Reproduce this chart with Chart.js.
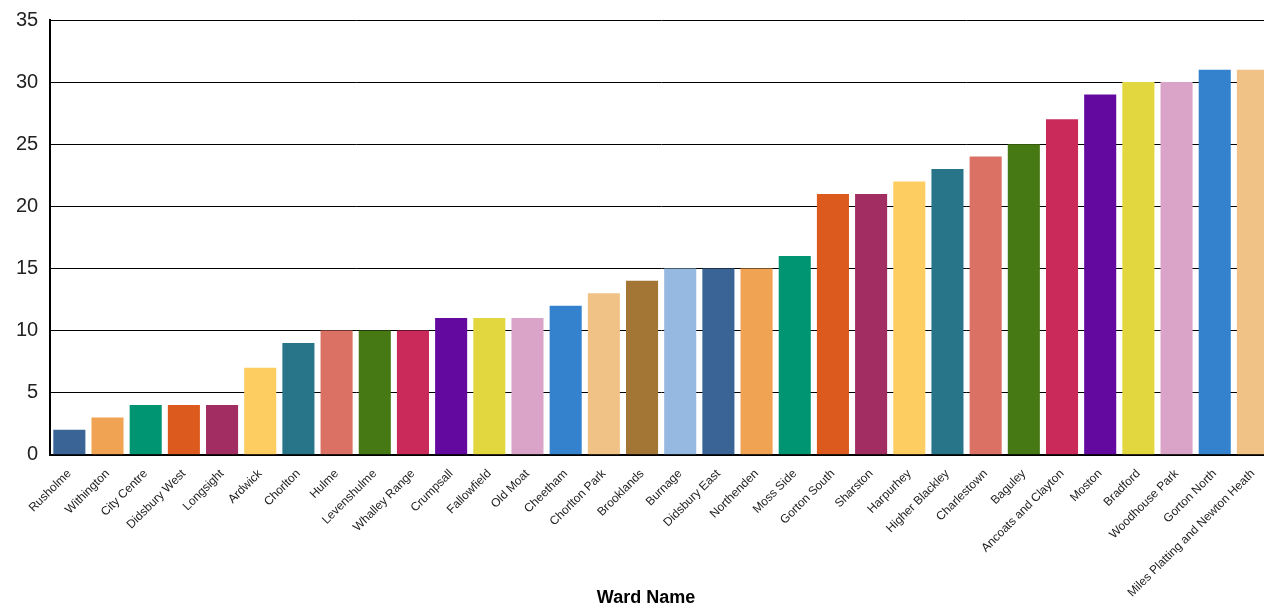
<!DOCTYPE html>
<html>
<head>
<meta charset="utf-8">
<script src="https://cdn.jsdelivr.net/npm/chart.js@4/dist/chart.umd.min.js"></script>
<style>
  html, body { margin: 0; padding: 0; background: #fff; overflow: hidden; }
  #wrap { position: relative; width: 1272px; height: 608px; margin-top: -4px; }
  #xtitle { position: absolute; left: 0; width: 1292px; top: 591px; text-align: center;
    font: bold 18px "Liberation Sans", Arial, sans-serif; color: #000; }
</style>
</head>
<body>
<div id="wrap">
  <canvas id="c"></canvas>
  <div id="xtitle">Ward Name</div>
</div>
<script>
const wards = ["Rusholme","Withington","City Centre","Didsbury West","Longsight","Ardwick","Chorlton","Hulme","Levenshulme","Whalley Range","Crumpsall","Fallowfield","Old Moat","Cheetham","Chorlton Park","Brooklands","Burnage","Didsbury East","Northenden","Moss Side","Gorton South","Sharston","Harpurhey","Higher Blackley","Charlestown","Baguley","Ancoats and Clayton","Moston","Bradford","Woodhouse Park","Gorton North","Miles Platting and Newton Heath"];
const counts = [2,3,4,4,4,7,9,10,10,10,11,11,11,12,13,14,15,15,15,16,21,21,22,23,24,25,27,29,30,30,31,31];
const palette = ["#3A6496","#F0A352","#009572","#DD5A1F","#A22D62","#FDCD62","#28758A","#DB7064","#467813","#C92A5A","#63099F","#E3D73F","#DAA4C9","#3482CD","#F1C285","#A37636","#96B9E2"];
const yTicks = [0,5,10,15,20,25,30,35];
const xAxisTitle = "Ward Name";

const colors = wards.map((_, i) => palette[i % palette.length]);
const font = '"Liberation Sans", Arial, sans-serif';

new Chart(document.getElementById('c'), {
  type: 'bar',
  data: {
    labels: wards,
    datasets: [{ data: counts, backgroundColor: colors, borderWidth: 0, categoryPercentage: 1, barPercentage: 0.84 }]
  },
  options: {
    responsive: true,
    maintainAspectRatio: false,
    animation: false,
    layout: { padding: { top: 4, bottom: 0, left: 4, right: 0 } },
    plugins: { legend: { display: false }, tooltip: { enabled: false } },
    scales: {
      x: {
        grid: { display: false },
        border: { color: '#000', width: 2 },
        ticks: { color: '#222', font: { family: font, size: 12 }, minRotation: 45, maxRotation: 45, autoSkip: false, padding: 4 }
      },
      y: {
        min: 0, max: 35,
        afterBuildTicks: (s) => { s.ticks = yTicks.map(v => ({ value: v })); },
        grid: { color: '#000', lineWidth: 1, drawTicks: false },
        border: { color: '#000', width: 2 },
        ticks: { color: '#222', font: { family: font, size: 20 }, padding: 12 }
      }
    }
  }
});
</script>
</body>
</html>
